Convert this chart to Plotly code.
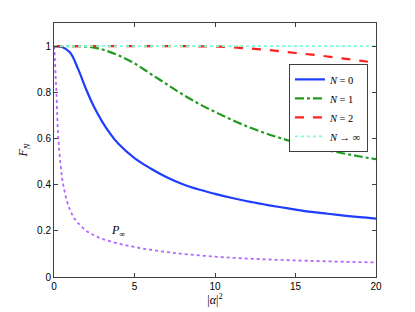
import plotly.graph_objects as go

# N = 0 (solid blue)
x_n0 = [0, 0.5, 1, 1.5, 2, 2.5, 3, 3.5, 4, 5, 6, 7, 8, 9, 10, 11, 12, 13, 14, 15, 16, 17, 18, 19, 20]
f_n0 = [1, 0.996, 0.972, 0.9, 0.812, 0.735, 0.672, 0.62, 0.577, 0.515, 0.47, 0.432, 0.402, 0.379, 0.36, 0.343, 0.328, 0.315, 0.303, 0.292, 0.282, 0.274, 0.266, 0.259, 0.253]

# N = 1 (green dash-dot)
x_n1 = [0, 1, 2, 3, 4, 5, 6, 7, 8, 9, 10, 11, 12, 13, 14, 15, 16, 17, 18, 19, 20]
f_n1 = [1, 1, 0.998, 0.985, 0.96, 0.925, 0.88, 0.835, 0.79, 0.75, 0.715, 0.682, 0.652, 0.626, 0.603, 0.583, 0.565, 0.549, 0.535, 0.522, 0.51]

# N = 2 (red dashed)
x_n2 = [0, 2, 4, 6, 8, 9, 10, 11, 12, 13, 14, 15, 16, 17, 18, 19, 20]
f_n2 = [1, 1, 1, 1, 1, 0.999, 0.998, 0.995, 0.99, 0.985, 0.978, 0.97, 0.963, 0.955, 0.946, 0.937, 0.927]

# N -> infinity (cyan dotted)
x_ninf = [0, 20]
f_ninf = [1, 1]

# P_infinity (purple dotted)
x_pinf = [0, 0.05, 0.1, 0.15, 0.2, 0.25, 0.3, 0.4, 0.5, 0.6, 0.8, 1, 1.25, 1.5, 2, 2.5, 3, 4, 5, 6, 7, 8, 10, 12, 14, 16, 18, 20]
p_inf = [1, 0.95, 0.87, 0.8, 0.7, 0.62, 0.57, 0.49, 0.43, 0.39, 0.33, 0.29, 0.255, 0.233, 0.2, 0.18, 0.165, 0.145, 0.13, 0.118, 0.108, 0.1, 0.088, 0.08, 0.074, 0.07, 0.066, 0.063]

x_ticks = [0, 5, 10, 15, 20]
y_ticks = [0, 0.2, 0.4, 0.6, 0.8, 1]
y_tick_labels = ["0", "0.2", "0.4", "0.6", "0.8", "1"]

serif = "Liberation Serif"
sans = "Liberation Sans"

fig = go.Figure()
fig.add_trace(go.Scatter(x=x_pinf, y=p_inf, mode="lines", showlegend=False,
                         line=dict(color="#b266ff", width=1.8, dash="dot", shape="spline")))
fig.add_trace(go.Scatter(x=x_n0, y=f_n0, mode="lines", name="<i>N</i> = 0",
                         line=dict(color="#1f3dff", width=2.2, shape="spline")))
fig.add_trace(go.Scatter(x=x_n1, y=f_n1, mode="lines", name="<i>N</i> = 1",
                         line=dict(color="#1f9a1f", width=2.2, dash="dashdot", shape="spline")))
fig.add_trace(go.Scatter(x=x_n2, y=f_n2, mode="lines", name="<i>N</i> = 2",
                         line=dict(color="#ff1f1f", width=2.2, dash="dash", shape="spline")))
fig.add_trace(go.Scatter(x=x_ninf, y=f_ninf, mode="lines", name="<i>N</i> → ∞",
                         line=dict(color="#7fffcf", width=1.8, dash="dot")))

fig.add_annotation(x=4.0, y=0.2, text="<i>P</i><sub>∞</sub>", showarrow=False,
                   font=dict(family=serif, size=12, color="black"))

axis_common = dict(showline=True, linecolor="#404040", linewidth=1, mirror="ticks",
                   ticks="inside", ticklen=4, tickcolor="#404040", showgrid=False,
                   zeroline=False, automargin=False,
                   tickfont=dict(family=sans, size=10, color="black"))

fig.update_xaxes(range=[0, 20], tickvals=x_ticks,
                 title=dict(text="|<i>α</i>|<sup>2</sup>", font=dict(family=serif, size=12, color="black"), standoff=2),
                 **axis_common)
fig.update_yaxes(range=[0, 1.1], tickvals=y_ticks, ticktext=y_tick_labels,
                 title=dict(text="<i>F</i><sub><i>N</i></sub>", font=dict(family=serif, size=12, color="black"), standoff=6),
                 **axis_common)

fig.update_layout(
    width=407, height=304,
    margin=dict(l=46, r=39, t=15, b=35),
    paper_bgcolor="white", plot_bgcolor="white",
    legend=dict(x=0.7296, y=0.839, xanchor="left", yanchor="top",
                bgcolor="white", bordercolor="#404040", borderwidth=1,
                font=dict(family=serif, size=10.5, color="black"),
                itemwidth=30, tracegroupgap=0),
)

fig.write_html("out.html")
